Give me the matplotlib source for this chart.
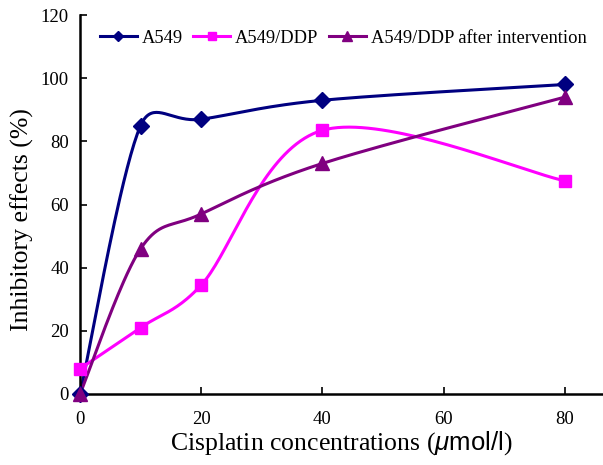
import numpy as np
import matplotlib
matplotlib.use('Agg')
import matplotlib.pyplot as plt

plt.rcParams['font.family'] = ['Liberation Serif', 'DejaVu Serif']
plt.rcParams['mathtext.fontset'] = 'custom'
plt.rcParams['mathtext.rm'] = 'Liberation Serif'
plt.rcParams['mathtext.it'] = 'Liberation Sans:italic'
plt.rcParams['mathtext.sf'] = 'Liberation Sans'

# data
conc = [0, 10, 20, 40, 80]
a549 = [0, 85, 87, 93, 98]
a549_ddp = [8, 21, 34.5, 83.5, 67.5]
a549_ddp_int = [0, 46, 57, 73, 94]

series = [
    ('A549', a549, '#000080', 'D', 8, 5.5),
    ('A549/DDP', a549_ddp, '#FF00FF', 's', 9, 5.5),
    ('A549/DDP after intervention', a549_ddp_int, '#800080', '^', 10, 6.5),
]

# px per data unit, so the smoothing behaves like an Excel smoothed line
SX, SY = 6.07, 3.16


def smooth(xs, ys, n=40):
    # Excel style bezier smoothing (tension 1/6, capped at half the segment)
    p = np.column_stack([np.array(xs) * SX, np.array(ys) * SY])
    pts = np.vstack([p[0], p, p[-1]])
    out = []
    for i in range(1, len(pts) - 2):
        p0, p1, p2, p3 = pts[i - 1], pts[i], pts[i + 1], pts[i + 2]
        d12 = np.linalg.norm(p2 - p1)
        d02 = np.linalg.norm(p2 - p0)
        d13 = np.linalg.norm(p3 - p1)
        f1 = 1 / 6
        f2 = 1 / 6
        if d02 / 6 >= d12 / 2 and d02 > 0:
            f1 = d12 / 2 / d02
        if d13 / 6 >= d12 / 2 and d13 > 0:
            f2 = d12 / 2 / d13
        c1 = p1 + (p2 - p0) * f1
        c2 = p2 - (p3 - p1) * f2
        t = np.linspace(0, 1, n)[:, None]
        b = ((1 - t) ** 3) * p1 + 3 * ((1 - t) ** 2) * t * c1 + 3 * (1 - t) * t ** 2 * c2 + t ** 3 * p2
        out.append(b)
    b = np.vstack(out)
    return b[:, 0] / SX, b[:, 1] / SY


fig = plt.figure(figsize=(6.03, 4.65), dpi=100)
ax = fig.add_axes([0.1327, 0.1527, 0.8673, 0.815])

for label, vals, col, mk, ms, lms in series:
    sx, sy = smooth(conc, vals)
    ax.plot(sx, sy, color=col, lw=2.2, clip_on=False, zorder=2)
    ax.plot(conc, vals, ls='none', marker=mk, ms=ms, color=col, clip_on=False, zorder=3)
    ax.plot([], [], color=col, lw=2.2, marker=mk, ms=lms, label=label)

ax.set_xlim(0, 86.3)
ax.set_ylim(0, 120)
ax.set_xticks([0, 20, 40, 60, 80])
ax.set_yticks(range(0, 121, 20))
for s in ['top', 'right']:
    ax.spines[s].set_visible(False)
for s in ['left', 'bottom']:
    ax.spines[s].set_linewidth(1.8)
ax.tick_params(direction='in', length=5, width=1.2, labelsize=13.5)
ax.tick_params(axis='x', pad=12)
ax.tick_params(axis='y', pad=8)

ax.set_xlabel(r'Cisplatin concentrations ($\mu\mathsf{mol/l}$)', fontsize=18.5, labelpad=1)
ax.set_ylabel('Inhibitory effects (%)', fontsize=18.5)
ax.yaxis.set_label_coords(-0.088, 0.46)

ax.legend(loc='center left', bbox_to_anchor=(0.038, 0.939), ncol=3, frameon=False,
          fontsize=13.3, handlelength=2.0, columnspacing=0.55, handletextpad=0.27,
          borderpad=0, borderaxespad=0)

fig.savefig('out.png', dpi=100)
